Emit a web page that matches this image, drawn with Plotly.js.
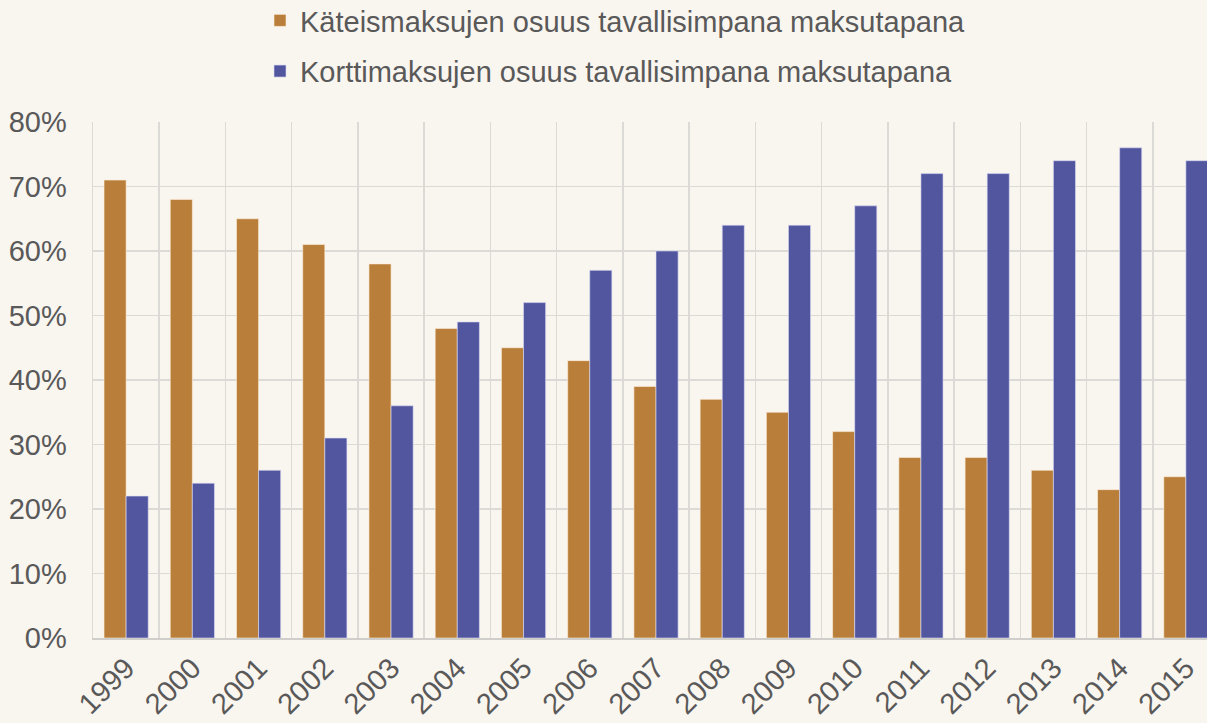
<!DOCTYPE html>
<html><head><meta charset="utf-8">
<script src="https://cdn.plot.ly/plotly-3.0.1.min.js"></script>
<style>html,body{margin:0;padding:0;overflow:hidden;background:#f9f5ef;}#chart{width:1230px;height:723px;}</style>
</head><body><div id="chart"></div>
<script>
const years = ["1999","2000","2001","2002","2003","2004","2005","2006","2007","2008","2009","2010","2011","2012","2013","2014","2015"];
const cashShare = [71,68,65,61,58,48,45,43,39,37,35,32,28,28,26,23,25];
const cardShare = [22,24,26,31,36,49,52,57,60,64,64,67,72,72,74,76,74];
const cashName = "Käteismaksujen osuus tavallisimpana maksutapana";
const cardName = "Korttimaksujen osuus tavallisimpana maksutapana";

const data = [
  {type:'bar', x:years, y:cashShare, name:cashName, legendgroup:'a',
   marker:{color:'#b87e3a', line:{color:'rgba(255,240,220,0.6)', width:1}}, hoverinfo:'x+y'},
  {type:'bar', x:years, y:cardShare, name:cardName, legendgroup:'b',
   marker:{color:'#51569f', line:{color:'rgba(220,220,245,0.6)', width:1}}, hoverinfo:'x+y'}
];
const layout = {
  width:1230, height:723,
  paper_bgcolor:'#f9f5ef', plot_bgcolor:'#f9f5ef',
  margin:{l:93, r:11, t:122, b:85, autoexpand:false},
  font:{family:'Liberation Sans, Arial, sans-serif', color:'#595959', size:29},
  barmode:'group', bargap:0.333, bargroupgap:0,
  showlegend:true,
  legend:{orientation:'v', xref:'container', yref:'paper', x:260/1230, y:1+127/516, xanchor:'left', yanchor:'top',
          traceorder:'grouped', tracegroupgap:10, font:{size:29, color:'#595959'}, bgcolor:'rgba(0,0,0,0)'},
  xaxis:{type:'category', tickson:'boundaries', showgrid:true, gridcolor:'#dcdad6', gridwidth:1.5,
         showline:true, linecolor:'#d0ceca', linewidth:1.5, ticks:'', tickangle:-45,
         tickfont:{size:29, color:'#595959'}, fixedrange:true, automargin:false},
  yaxis:{range:[0,80], dtick:10, ticksuffix:'%', showgrid:true, gridcolor:'#dcdad6', gridwidth:1.5,
         zeroline:false, showline:true, linecolor:'#dcdad6', linewidth:1.5, ticks:'', ticklabelstandoff:19,
         tickfont:{size:29, color:'#595959'}, fixedrange:true, automargin:false}
};
Plotly.newPlot('chart', data, layout, {displayModeBar:false, staticPlot:true});
</script></body></html>
